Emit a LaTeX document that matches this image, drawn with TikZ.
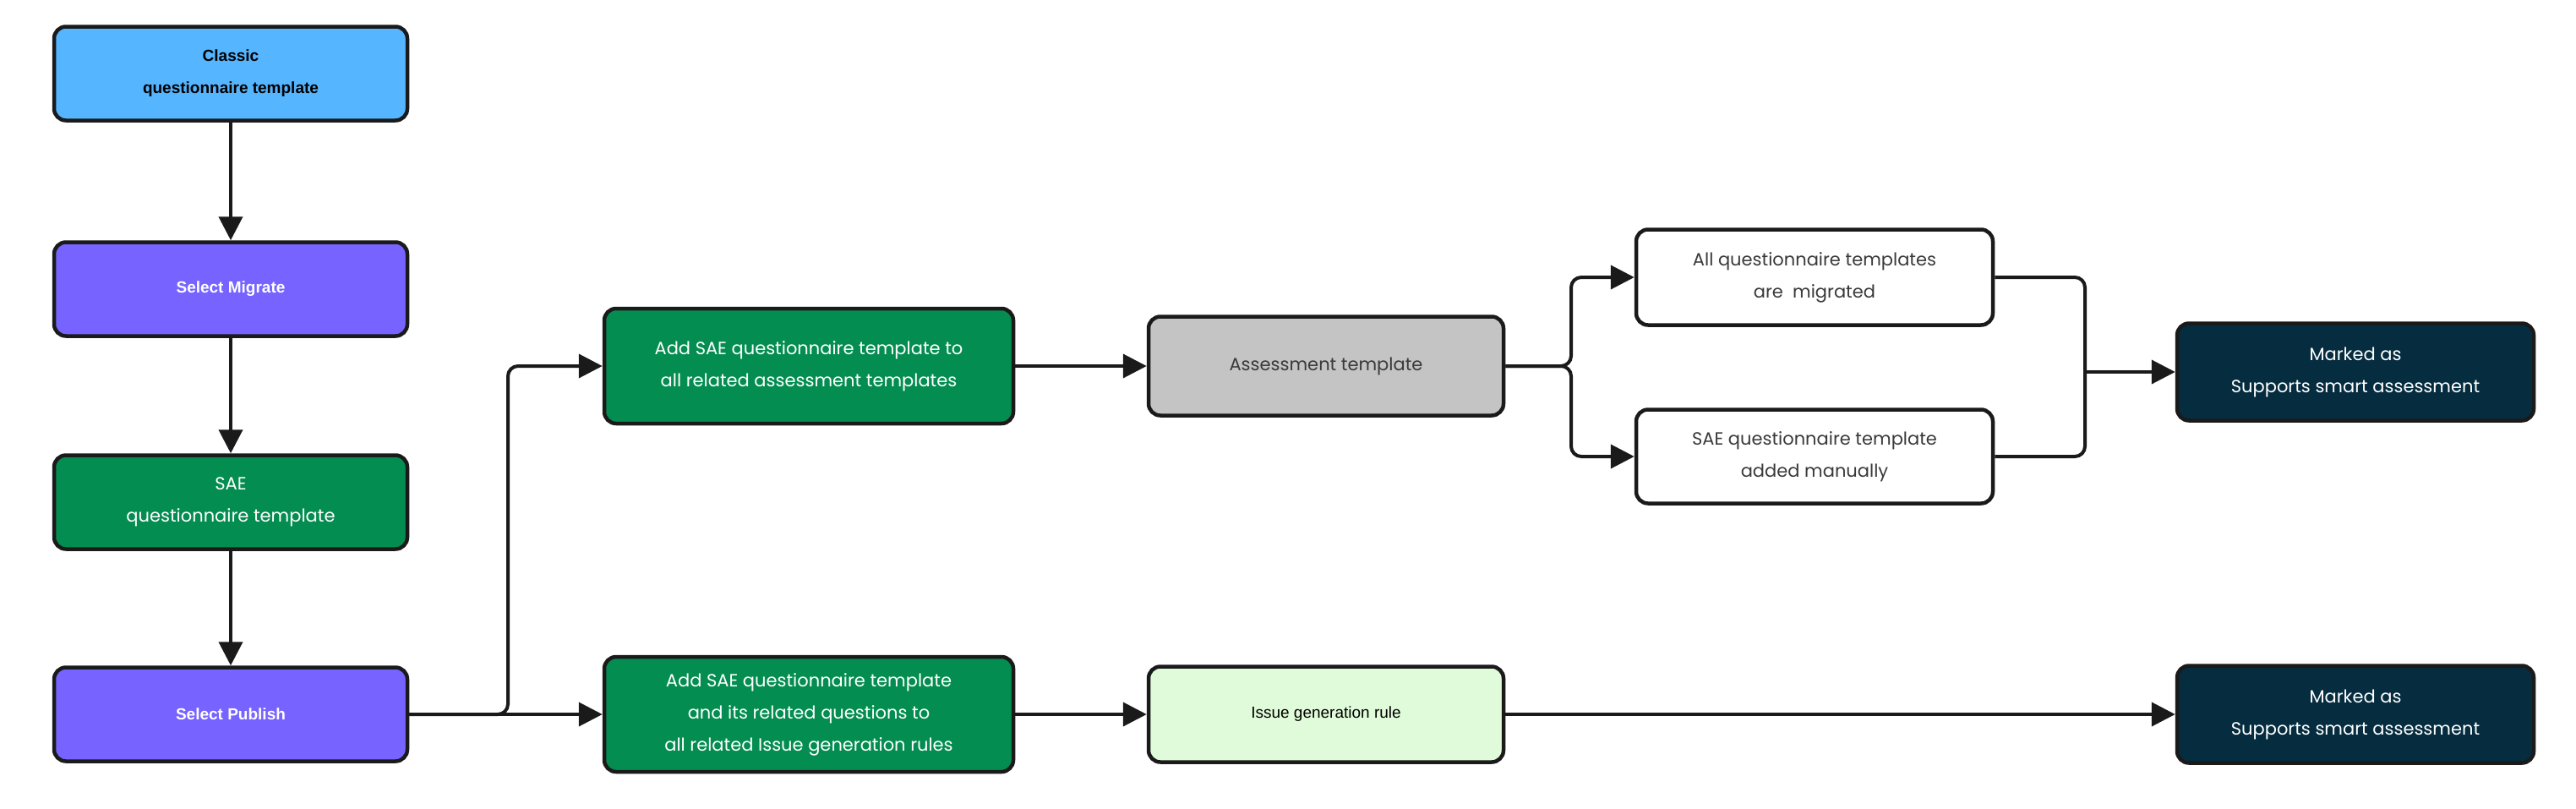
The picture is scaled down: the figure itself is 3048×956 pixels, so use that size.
\documentclass[tikz,border=0pt]{standalone}
\usepackage{fontspec}
\setmainfont{Poppins}
\newfontfamily\arialb{Liberation Sans}[Scale=1]
\usetikzlibrary{arrows.meta}
\definecolor{cblue}{HTML}{55B5FF}
\definecolor{cpurp}{HTML}{7763FF}
\definecolor{cgreen}{HTML}{038D50}
\definecolor{cgray}{HTML}{C4C4C4}
\definecolor{clight}{HTML}{E0FBD9}
\definecolor{cdark}{HTML}{052C3F}
\definecolor{cline}{HTML}{1A1A1A}
\definecolor{ctext}{HTML}{3A3A3A}
\begin{document}
\begin{tikzpicture}[x=1pt,y=-1pt,
  box/.style={draw=cline,line width=4.5pt,rounded corners=14pt,align=center,inner sep=0pt},
  lbox/.style={box,font=\fontsize{21}{38}\selectfont},
  bbox/.style={box,font=\arialb\bfseries\fontsize{19}{38}\selectfont},
  conn/.style={draw=cline,line width=4pt,rounded corners=12pt,-{Triangle[length=28pt,width=28pt]}},
  cline2/.style={draw=cline,line width=4pt,rounded corners=12pt}]
\useasboundingbox (0,0) rectangle (3048,956);
\fill[white] (0,0) rectangle (3048,956);
\node[bbox,fill=cblue,minimum width=418pt,minimum height=111pt] (cl) at (273,87) {Classic\\questionnaire template};
\node[bbox,fill=cpurp,text=white,minimum width=418pt,minimum height=111pt] (mig) at (273,342) {Select Migrate};
\node[lbox,fill=cgreen,text=white,minimum width=418pt,minimum height=111pt] (sae) at (273,594) {SAE\\questionnaire template};
\node[bbox,fill=cpurp,text=white,minimum width=418pt,minimum height=111pt] (pub) at (273,845) {Select Publish};
\node[lbox,fill=cgreen,text=white,minimum width=484pt,minimum height=136pt] (add1) at (957,433) {Add SAE questionnaire template to\\all related assessment templates};
\node[lbox,fill=cgreen,text=white,minimum width=484pt,minimum height=136pt] (add2) at (957,845) {Add SAE questionnaire template\\and its related questions to\\all related Issue generation rules};
\node[lbox,fill=cgray,text=ctext,minimum width=420pt,minimum height=117pt] (asm) at (1569,433) {Assessment template};
\node[bbox,font=\arialb\fontsize{19}{38}\selectfont,fill=clight,minimum width=420pt,minimum height=113pt] (igr) at (1569,845) {Issue generation rule};
\node[lbox,fill=white,text=ctext,minimum width=422pt,minimum height=113pt] (allq) at (2147,328) {All questionnaire templates\\are\ \ migrated};
\node[lbox,fill=white,text=ctext,minimum width=422pt,minimum height=111pt] (man) at (2147,540) {SAE questionnaire template\\added manually};
\node[lbox,fill=cdark,text=white,minimum width=422pt,minimum height=115pt] (mk1) at (2787,440) {Marked as\\Supports smart assessment};
\node[lbox,fill=cdark,text=white,minimum width=422pt,minimum height=115pt] (mk2) at (2787,845) {Marked as\\Supports smart assessment};
\coordinate (bp) at (601,845);
\coordinate (ba) at (1859,433);
\coordinate (jn) at (2467,440);
\draw[conn] (cl) -- (mig);
\draw[conn] (mig) -- (sae);
\draw[conn] (sae) -- (pub);
\draw[conn] (pub.east) -- (bp) |- (add1.west);
\draw[conn] (pub.east) -- (add2.west);
\draw[conn] (add1) -- (asm);
\draw[conn] (add2) -- (igr);
\draw[conn] (asm.east) -- (ba) |- (allq.west);
\draw[conn] (asm.east) -- (ba) |- (man.west);
\draw[cline2] (allq.east) -| (jn);
\draw[cline2] (man.east) -| (jn);
\draw[conn] (jn) -- (mk1.west);
\draw[conn] (igr) -- (mk2);
\end{tikzpicture}
\end{document}
